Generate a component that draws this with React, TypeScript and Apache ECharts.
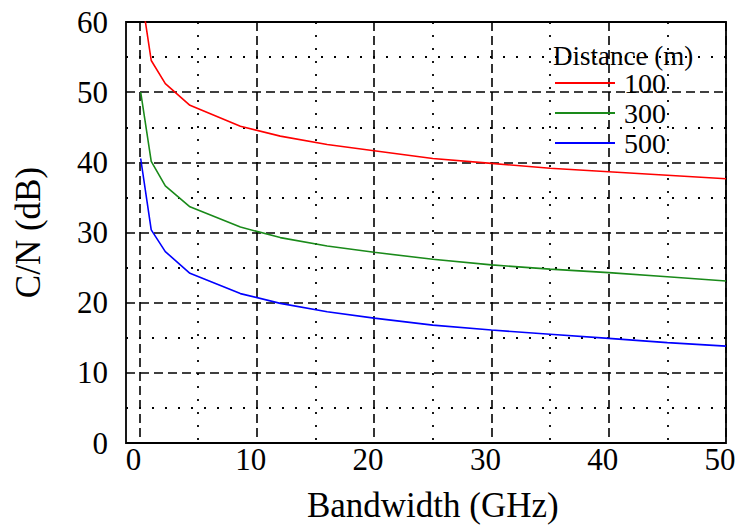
import React, { useEffect, useRef } from "react";
import * as echarts from "echarts";

const bandwidth = [0.1, 1, 2.2, 4.3, 8.6, 12, 16, 20, 25, 30, 35, 40, 45, 50];
const cn100 = [64.5, 54.5, 51.2, 48.1, 45.1, 43.7, 42.5, 41.6, 40.5, 39.8, 39.1, 38.6, 38.1, 37.6];
const cn300 = [50.0, 40.1, 36.6, 33.6, 30.7, 29.2, 28.0, 27.1, 26.1, 25.3, 24.7, 24.2, 23.6, 23.0];
const cn500 = [40.5, 30.3, 27.2, 24.1, 21.2, 19.8, 18.6, 17.7, 16.7, 16.0, 15.4, 14.8, 14.2, 13.7];
const seriesNames = ["100", "300", "500"];
const seriesColors = ["#ff0000", "#1a8a1a", "#0000ff"];
const xTitle = "Bandwidth (GHz)";
const yTitle = "C/N (dB)";
const legendTitle = "Distance (m)";

const FONT = "Liberation Serif";

export default function App() {
  const ref = useRef<HTMLDivElement>(null);
  useEffect(() => {
    if (!ref.current) return;
    const chart = echarts.init(ref.current, undefined, { renderer: "svg" });
    const dashed = { color: "#000", width: 1.6, type: [9, 5] as any };
    const dotted = { color: "#000", width: 1.8, type: [2, 11] as any };
    const values = [cn100, cn300, cn500];
    chart.setOption({
      animation: false,
      backgroundColor: "#fff",
      title: {
        text: legendTitle,
        left: 553,
        top: 42,
        padding: 0,
        textStyle: { fontFamily: FONT, fontSize: 27, fontWeight: "normal", color: "#000" },
      },
      legend: {
        orient: "vertical",
        left: 555,
        top: 69,
        padding: 0,
        icon: "rect",
        itemWidth: 60,
        itemHeight: 2,
        itemGap: 2,
        data: seriesNames,
        textStyle: { fontFamily: FONT, fontSize: 28, color: "#000", lineHeight: 28, padding: [0, 0, 0, 4] },
      },
      grid: [
        { left: 126, right: 14, top: 22, bottom: 85, show: true, borderColor: "#000", borderWidth: 1.8, backgroundColor: "transparent" },
        { left: 139.5, right: 14, top: 22, bottom: 85 },
      ],
      xAxis: [
        { type: "value", gridIndex: 0, min: 0, max: 1, show: false },
        {
          type: "value",
          gridIndex: 1,
          min: 0,
          max: 50,
          interval: 10,
          name: xTitle,
          nameLocation: "middle",
          nameGap: 46,
          nameTextStyle: { fontFamily: FONT, fontSize: 35, color: "#000" },
          axisLine: { show: false },
          axisTick: { show: false },
          axisLabel: { fontFamily: FONT, fontSize: 31, color: "#000", margin: 2, padding: [0, 12, 0, 0] },
          splitLine: { show: true, lineStyle: dashed },
          minorTick: { show: false, splitNumber: 2 },
          minorSplitLine: { show: true, lineStyle: dotted },
        },
      ],
      yAxis: [
        {
          type: "value",
          gridIndex: 0,
          min: 0,
          max: 60,
          interval: 10,
          name: yTitle,
          nameLocation: "middle",
          nameRotate: 90,
          nameGap: 80,
          nameTextStyle: { fontFamily: FONT, fontSize: 35, color: "#000" },
          axisLine: { show: false },
          axisTick: { show: false },
          axisLabel: { fontFamily: FONT, fontSize: 31, color: "#000", margin: 18 },
          splitLine: { show: true, lineStyle: dashed },
          minorTick: { show: false, splitNumber: 2 },
          minorSplitLine: { show: true, lineStyle: dotted },
        },
        { type: "value", gridIndex: 1, min: 0, max: 60, show: false },
      ],
      series: seriesNames.map((name, i) => ({
        name,
        type: "line",
        xAxisIndex: 1,
        yAxisIndex: 1,
        symbol: "none",
        showSymbol: false,
        clip: true,
        color: seriesColors[i],
        lineStyle: { color: seriesColors[i], width: 1.6 },
        data: bandwidth.map((b, j) => [b, values[i][j]]),
        z: 5,
      })),
    });
    return () => chart.dispose();
  }, []);
  return <div ref={ref} style={{ position: "absolute", left: 0, top: 0, width: 740, height: 528 }} />;
}
